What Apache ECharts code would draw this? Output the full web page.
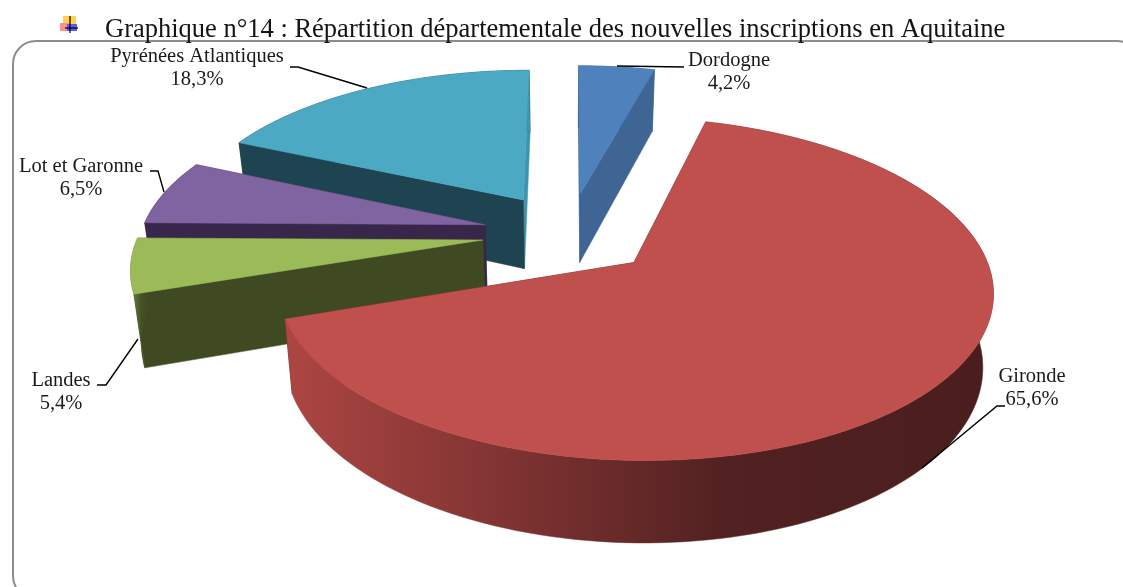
<!DOCTYPE html>
<html>
<head>
<meta charset="utf-8">
<title>Graphique n°14</title>
<style>
	html,body{margin:0;padding:0;background:#fff;}
	#chart{width:1123px;height:587px;}
</style>
<script src="https://cdn.jsdelivr.net/npm/echarts@6/dist/echarts.min.js"></script>
</head>
<body>
<div id="chart"></div>
<script>
var titleText = 'Graphique n°14 : Répartition départementale des nouvelles inscriptions en Aquitaine';
var categories = ['Dordogne','Gironde','Landes','Lot et Garonne','Pyrénées Atlantiques'];
var shares = [4.2,65.6,5.4,6.5,18.3];
// back slices first, the front ones paint over them
var drawOrder = [0,4,3,2,1];

var topColors = ['#4f81bd','#c0504d','#9bbb59','#8064a2','#4ba9c4'];
var faceColors = ['#3e6594','#4a1e1e','#3f4a23','#38274a','#1f4451'];
var endFaceColors = ['#3e6594','#4a1e1e','#3f4a23','#38274a','#3f93ad'];
var wallColors = [['#3e6594','#3e6594'],['#ad4643','#4a1e1e'],['#6f8a3d','#3f4a23'],['#38274a','#38274a'],['#1f4451','#1f4451']];

// text block centre and leader line of each label
var labelCenters = [[729,61],[1032,377],[61,381],[81,167],[197,57]];
var leaders = [
	[[684,67],[617,66]],
	[[1005,406],[997,406],[922,468]],
	[[97,385],[106,385],[138,339]],
	[[150,171],[158,171],[164,192]],
	[[290,67],[298,67],[367,88]]
];

// projection of the pie plane, fitted on the picture
var vanishX = 569, horizonY = -820, planeH = 1053.5, perspK = 0.1505;
var radiusX = 344, thickness = 70.5, thickPow = 0.8, bottomShrink = 0.975;
var explodeX = 0.252, explodeY = 0.26;
var serif = '"Liberation Serif"';

function project(X,Y,isBottom){
	var w = 1+perspK*Y;
	return [
		vanishX+radiusX*X/w*(isBottom?bottomShrink:1),
		horizonY+planeH/w+(isBottom?thickness/Math.pow(w,thickPow):0)
	];
}

var total = shares.reduce(function(a,b){return a+b;},0);
var slices = [], cumul = 0;
for(var i=0;i<shares.length;i++){
	var start = cumul/total*Math.PI*2;
	cumul += shares[i];
	slices.push({start:start,end:cumul/total*Math.PI*2});
}

function sliceShapes(idx){
	var s = slices[idx], mid = (s.start+s.end)/2;
	var ox = explodeX*Math.sin(mid), oy = explodeY*Math.cos(mid);
	var topArc = [], botArc = [];
	var steps = Math.max(4,Math.ceil((s.end-s.start)/0.03));
	for(var k=0;k<=steps;k++){
		var a = s.start+(s.end-s.start)*k/steps;
		var X = ox+Math.sin(a), Y = oy+Math.cos(a);
		topArc.push(project(X,Y,false));
		botArc.push(project(X,Y,true));
	}
	var apexTop = project(ox,oy,false), apexBot = project(ox,oy,true);
	var last = topArc.length-1;
	return {
		isBack:Math.cos(mid)>0,
		top:[apexTop].concat(topArc),
		wall:topArc.concat(botArc.slice().reverse()),
		faceStart:[apexTop,topArc[0],botArc[0],apexBot],
		faceEnd:[apexTop,topArc[last],botArc[last],apexBot]
	};
}

function poly(points,fill){
	return {type:'polygon',shape:{points:points},style:{fill:fill,stroke:fill,lineWidth:0.5}};
}

function renderSlice(params,api){
	var idx = api.value(0);
	var sh = sliceShapes(idx);
	var wallFill = new echarts.graphic.LinearGradient(0,0,1,0,[
		{offset:0,color:wallColors[idx][0]},
		{offset:0.62,color:echarts.color.lerp(0.92,wallColors[idx])},
		{offset:1,color:wallColors[idx][1]}
	]);
	var faces = [poly(sh.faceEnd,endFaceColors[idx]),poly(sh.faceStart,faceColors[idx])];
	var wall = poly(sh.wall,wallFill);
	// on a back slice the outer wall is behind its cut faces
	var under = sh.isBack ? [wall].concat(faces) : faces.concat([wall]);
	return {type:'group',children:under.concat([poly(sh.top,topColors[idx])])};
}

function renderLabel(params,api){
	var idx = api.value(0);
	var pos = labelCenters[idx];
	var pct = shares[idx].toFixed(1).replace('.',',')+'%';
	return {type:'group',children:[
		{type:'polyline',shape:{points:leaders[idx]},style:{fill:null,stroke:'#000',lineWidth:1.4}},
		{type:'text',x:pos[0],y:pos[1],style:{text:categories[idx],fill:'#1a1a1a',font:'20.5px '+serif,align:'center',verticalAlign:'middle'}},
		{type:'text',x:pos[0],y:pos[1]+22.5,style:{text:pct,fill:'#1a1a1a',font:'20.5px '+serif,align:'center',verticalAlign:'middle'}}
	]};
}

var chart = echarts.init(document.getElementById('chart'),null,{renderer:'canvas'});
chart.setOption({
	animation:false,
	backgroundColor:'#fff',
	title:{
		text:titleText,left:100,top:12,
		textStyle:{fontFamily:serif,fontSize:26.5,fontWeight:'normal',color:'#141414'}
	},
	graphic:[
		{type:'rect',z:0,shape:{x:13,y:41,width:1127,height:558,r:23},style:{fill:'none',stroke:'#8c8c8c',lineWidth:2}},
		{type:'rect',z:1,shape:{x:63,y:16,width:13,height:9},style:{fill:'#ffd24d'}},
		{type:'rect',z:1,shape:{x:60,y:23,width:9,height:8},style:{fill:'#ff8f8f'}},
		{type:'rect',z:1,shape:{x:67,y:24,width:10,height:7},style:{fill:'#5a5aff'}},
		{type:'line',z:2,shape:{x1:70,y1:16,x2:70,y2:33},style:{stroke:'#000',lineWidth:1.2}},
		{type:'line',z:2,shape:{x1:65,y1:28,x2:78,y2:28},style:{stroke:'#000',lineWidth:1.2}}
	],
	series:[
		{
			type:'custom',coordinateSystem:'none',silent:true,z:3,
			renderItem:renderSlice,
			data:drawOrder.map(function(i){return [i,shares[i]];})
		},
		{
			type:'custom',coordinateSystem:'none',silent:true,z:4,
			renderItem:renderLabel,
			data:categories.map(function(c,i){return [i,shares[i]];})
		}
	]
});
</script>
</body>
</html>
